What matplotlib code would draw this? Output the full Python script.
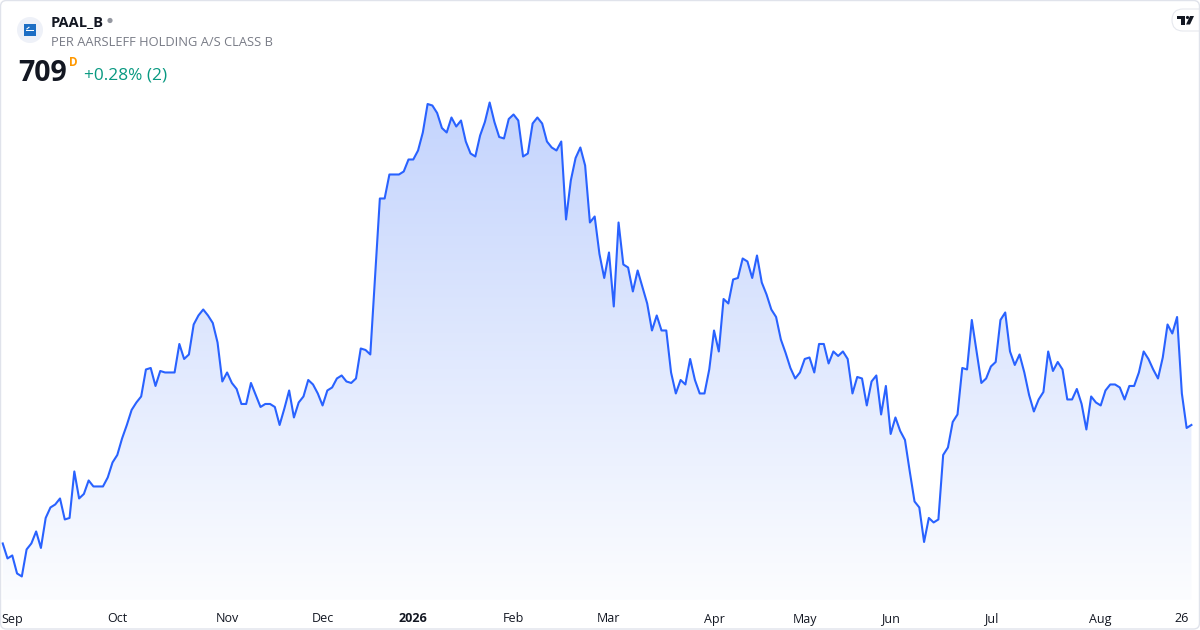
import numpy as np
import pandas as pd
import matplotlib
matplotlib.use("Agg")
import matplotlib.pyplot as plt
from matplotlib.patches import FancyBboxPatch, Circle, Rectangle, Polygon
from matplotlib.transforms import Affine2D

plt.rcParams["font.family"] = ["Open Sans", "DejaVu Sans"]

symbol = "PAAL_B"
company = "PER AARSLEFF HOLDING A/S CLASS B"
last_price = "709"
interval = "D"
change_text = "+0.28% (2)"

# Copenhagen exchange closing days in the window
holidays = ["2025-12-24", "2025-12-25", "2025-12-26", "2025-12-31", "2026-01-01",
            "2026-04-02", "2026-04-03", "2026-04-06", "2026-05-14", "2026-05-15",
            "2026-05-25", "2026-06-05"]

# daily closes, DKK
closes = [
    630, 620, 622, 610, 608, 626, 630, 638, 627, 647, 654, 656, 660, 646, 647, 678, 660, 663, 672, 668,
    668, 668, 674, 684, 689, 700, 709, 719, 724, 728, 746, 747, 735, 745, 744, 744, 744, 763, 753, 756,
    776, 782,
    786, 782, 777, 764, 738, 744, 737, 733, 723, 723, 737, 729, 721, 723, 723, 721, 709, 720, 732, 714,
    724, 728, 739, 736, 730, 722, 732, 734, 740, 742, 738, 737, 740, 760, 759, 756, 808, 860, 860, 876,
    876, 876,
    878, 886, 886, 892, 904, 923, 922, 917, 907, 904, 914, 908, 912, 898, 890, 888, 902, 911, 924, 911,
    901, 900, 913, 916, 912, 888, 890, 910, 914, 910, 898, 894, 892, 898, 846, 872, 887, 894, 882, 844,
    848, 823,
    807, 824, 788, 844, 816, 814, 798, 812, 801, 790, 772, 782, 772, 772, 744, 730, 739, 736, 753, 739,
    730, 730, 746, 772, 758, 793, 790, 806, 807, 820, 818, 807, 822, 804, 796, 786, 781, 766, 757, 747,
    740, 744,
    753, 754, 744, 763, 763, 750, 758, 755, 758, 753, 730, 741, 740, 722, 738, 742, 716, 735, 703, 714,
    705, 699, 678, 658, 654, 631, 647, 644, 646, 689, 694, 711, 716, 747, 746, 779, 758, 737, 740, 748,
    751, 779,
    784, 758, 749, 756, 744, 729, 718, 726, 731, 758, 745, 751, 746, 726, 726, 733, 723, 706, 728, 724,
    722, 732, 736, 736, 734, 726, 735, 735, 744, 758, 753, 746, 740, 754, 776, 770, 781, 730, 707, 709,
]

dates = pd.bdate_range("2025-08-28", "2026-08-28")
dates = dates[~dates.isin(pd.to_datetime(holidays))]
assert len(dates) == len(closes)
idx = np.arange(len(closes))

month_starts = [i for i in range(1, len(dates)) if dates[i].month != dates[i - 1].month]
tick_pos = month_starts + [int(np.where(dates == pd.Timestamp("2026-08-26"))[0][0])]
tick_labels = ["2026" if dates[i].month == 1 else dates[i].strftime("%b") for i in month_starts] + ["26"]

W, H = 1200, 630
fig = plt.figure(figsize=(W / 100, H / 100), dpi=100)
fig.patch.set_facecolor("white")
# pixel coords, origin top-left
pix = Affine2D().scale(1 / 100, -1 / 100).translate(0, H / 100) + fig.dpi_scale_trans

ax = fig.add_axes([0, 30 / H, 1, 505 / H])
ax.set_facecolor("none")
for s in ax.spines.values():
    s.set_visible(False)

x0, x1 = -0.57, 250.8
ylo, yhi = 592.3, 929.0

# gradient area under the line
grad = np.linspace(0, 1, 256).reshape(-1, 1)
top_c = np.array([196, 212, 253]) / 255
bot_c = np.array([252, 253, 255]) / 255
img = (bot_c + (top_c - bot_c) * grad).reshape(256, 1, 3)
im = ax.imshow(img, extent=[x0, x1, ylo, max(closes)], origin="lower", aspect="auto", zorder=1)
verts = [(idx[0], ylo)] + list(zip(idx, closes)) + [(idx[-1], ylo)]
clip = Polygon(verts, closed=True, transform=ax.transData, facecolor="none", edgecolor="none")
ax.add_patch(clip)
im.set_clip_path(clip)

ax.plot(idx, closes, color="#2962FF", lw=1.5, zorder=3, solid_joinstyle="round")

ax.set_xlim(x0, x1)
ax.set_ylim(ylo, yhi)
ax.set_yticks([])
ax.set_xticks(tick_pos)
ax.set_xticklabels(tick_labels)
ax.tick_params(axis="x", length=0, pad=9, labelsize=9, labelcolor="#131722")
for lab in ax.get_xticklabels():
    if lab.get_text() == "2026":
        lab.set_fontweight("bold")

# header
fig.add_artist(Circle((30, 30), 13, transform=pix, facecolor="#EEF1F8", edgecolor="none"))
fig.add_artist(Rectangle((24, 24), 12, 12, transform=pix, facecolor="#1E6FC4", edgecolor="none"))
fig.add_artist(Rectangle((26, 30), 8, 1.2, transform=pix, facecolor="white", edgecolor="none"))
fig.add_artist(Polygon([(26, 29), (29, 26.5), (29.8, 27.3), (27, 29.5)], transform=pix,
                       facecolor="white", edgecolor="none"))
fig.text(51, 26, symbol, transform=pix, fontsize=10.5, fontweight="bold", color="#131722", va="baseline")
fig.add_artist(Circle((110, 20.5), 2.6, transform=pix, facecolor="#9598A1", edgecolor="none"))
fig.text(51, 46, company, transform=pix, fontsize=9.3, color="#787B86", va="baseline")
fig.text(18, 81, last_price, transform=pix, fontsize=20.5, fontweight="bold", color="#131722", va="baseline")
fig.text(69, 65.5, interval, transform=pix, fontsize=8.5, fontweight="bold", color="#FF9800", va="baseline")
fig.text(84, 80, change_text, transform=pix, fontsize=12.4, color="#089981", va="baseline")

# TradingView badge
fig.add_artist(FancyBboxPatch((1172, 9), 40, 22, boxstyle="round,pad=0,rounding_size=11", transform=pix,
                              facecolor="white", edgecolor="#E6E8EE", lw=0.8))
fig.add_artist(Rectangle((1177, 16), 8, 3, transform=pix, facecolor="#131722", edgecolor="none"))
fig.add_artist(Rectangle((1181, 16), 3.5, 8.5, transform=pix, facecolor="#131722", edgecolor="none"))
fig.add_artist(Circle((1187.5, 17.5), 1.6, transform=pix, facecolor="#131722", edgecolor="none"))
fig.add_artist(Polygon([(1186, 24.5), (1190, 16), (1194, 16), (1190, 24.5)], transform=pix,
                       facecolor="#131722", edgecolor="none"))

# outer frame
fig.add_artist(FancyBboxPatch((0.5, 0.5), W - 1, H - 1.5, boxstyle="round,pad=0,rounding_size=6",
                              transform=pix, facecolor="none", edgecolor="#E0E3EB", lw=1))

fig.savefig("out.png", dpi=100, facecolor="white")
